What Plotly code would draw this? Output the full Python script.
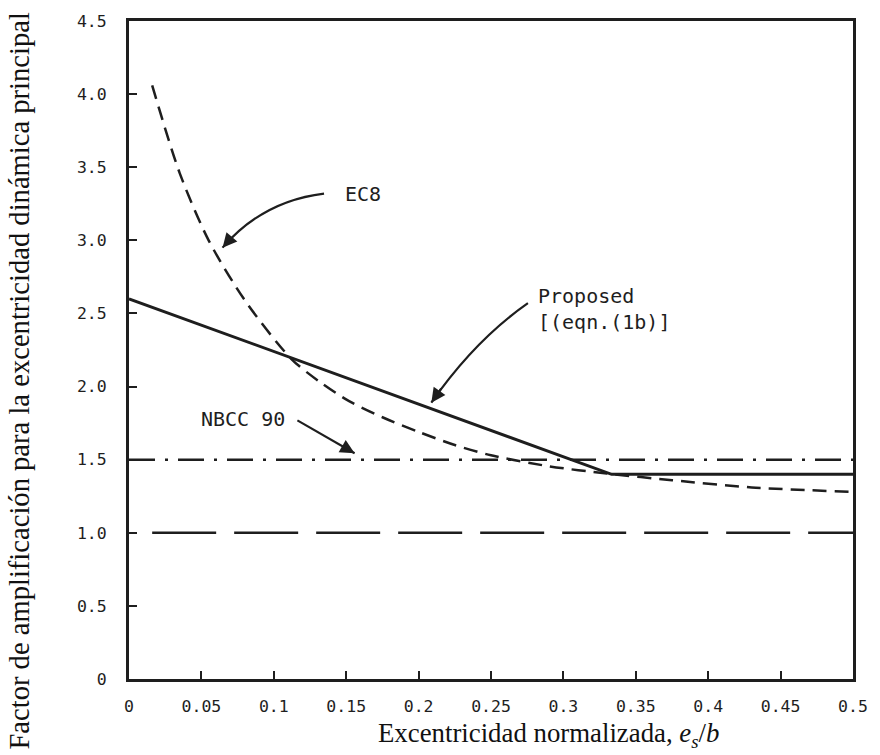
import plotly.graph_objects as go

# ---- data ----
ec8_x = [0.016, 0.035, 0.055, 0.08, 0.112, 0.132, 0.152, 0.175, 0.2, 0.225, 0.25, 0.29, 0.33, 0.375, 0.43, 0.5]
ec8_y = [4.06, 3.46, 3.0, 2.59, 2.19, 2.03, 1.90, 1.79, 1.69, 1.60, 1.53, 1.455, 1.405, 1.36, 1.31, 1.28]

prop_x = [0.0, 0.3333, 0.5]
prop_y = [2.6, 1.4, 1.4]

nbcc_x = [0.0, 0.5]
nbcc_y = [1.5, 1.5]

unit_x = [0.016, 0.5]
unit_y = [1.0, 1.0]

x_ticks = [0, 0.05, 0.1, 0.15, 0.2, 0.25, 0.3, 0.35, 0.4, 0.45, 0.5]
x_tick_text = ["0", "0.05", "0.1", "0.15", "0.2", "0.25", "0.3", "0.35", "0.4", "0.45", "0.5"]
y_ticks = [0, 0.5, 1.0, 1.5, 2.0, 2.5, 3.0, 3.5, 4.0, 4.5]
y_tick_text = ["0", "0.5", "1.0", "1.5", "2.0", "2.5", "3.0", "3.5", "4.0", "4.5"]

INK = "#1e1e1e"
MONO = "DejaVu Sans Mono"
SERIF = "Liberation Serif"

fig = go.Figure()
fig.add_trace(go.Scatter(x=unit_x, y=unit_y, mode="lines",
                         line=dict(color=INK, width=2.5, dash="64px,18px"), hoverinfo="skip"))
fig.add_trace(go.Scatter(x=nbcc_x, y=nbcc_y, mode="lines",
                         line=dict(color=INK, width=2.5, dash="26px,10px,3px,10px"), hoverinfo="skip"))
fig.add_trace(go.Scatter(x=ec8_x, y=ec8_y, mode="lines", line_shape="spline",
                         line=dict(color=INK, width=2.5, dash="14px,8px", smoothing=0.8),
                         hoverinfo="skip"))
fig.add_trace(go.Scatter(x=prop_x, y=prop_y, mode="lines",
                         line=dict(color=INK, width=3), hoverinfo="skip"))

# curved arrow bodies
def qpath(p0, c, p1):
    return f"M {p0[0]},{p0[1]} Q {c[0]},{c[1]} {p1[0]},{p1[1]}"

arrows = [
    ((0.1347, 3.32), (0.0925, 3.27), (0.0646, 2.95)),
    ((0.2755, 2.57), (0.2388, 2.316), (0.2088, 1.89)),
    ((0.1163, 1.769), (0.136, 1.656), (0.1558, 1.544)),
]
for p0, c, p1 in arrows:
    fig.add_shape(type="path", path=qpath(p0, c, p1), xref="x", yref="y",
                  line=dict(color=INK, width=2.2))
    hx = p1[0] + 0.25 * (c[0] - p1[0])
    hy = p1[1] + 0.25 * (c[1] - p1[1])
    fig.add_annotation(x=p1[0], y=p1[1], ax=hx, ay=hy, axref="x", ayref="y",
                       xref="x", yref="y", text="", showarrow=True,
                       arrowhead=2, arrowsize=1.3, arrowwidth=2.2, arrowcolor=INK)

lab_font = dict(family=MONO, size=20, color=INK)
fig.add_annotation(x=0.148, y=3.32, text="EC8", showarrow=False, xanchor="left",
                   yanchor="middle", font=lab_font)
fig.add_annotation(x=0.281, y=2.53, text="Proposed<br>[(eqn.(1b)]", showarrow=False,
                   xanchor="left", yanchor="middle", align="left", font=lab_font)
fig.add_annotation(x=0.048, y=1.78, text="NBCC 90", showarrow=False, xanchor="left",
                   yanchor="middle", font=lab_font)

# axis titles
fig.add_annotation(xref="paper", yref="paper", x=-0.151, y=0.453,
                   xanchor="center", yanchor="middle",
                   text="Factor de amplificación para la excentricidad dinámica principal",
                   textangle=-90, showarrow=False,
                   font=dict(family=SERIF, size=28.6, color="#111"))
fig.add_annotation(xref="paper", yref="paper", x=0.58, y=-0.085,
                   xanchor="center", yanchor="middle",
                   text="Excentricidad normalizada, <i>e</i><sub><i>s</i></sub>/<i>b</i>",
                   showarrow=False, font=dict(family=SERIF, size=26.8, color="#111"))

axis_common = dict(showgrid=False, zeroline=False, showline=True, linecolor=INK,
                   linewidth=3, mirror=True, ticks="inside", ticklen=8,
                   tickwidth=2, tickcolor=INK,
                   tickfont=dict(family=MONO, size=16.5, color=INK))
fig.update_xaxes(range=[0, 0.5], tickvals=x_ticks, ticktext=x_tick_text,
                 ticklabelstandoff=10, **axis_common)
fig.update_yaxes(range=[0, 4.5], tickvals=y_ticks, ticktext=y_tick_text,
                 ticklabelstandoff=16, **axis_common)

fig.update_layout(width=880, height=755, showlegend=False,
                  margin=dict(l=129, r=16, t=20, b=76),
                  paper_bgcolor="white", plot_bgcolor="white")

fig.write_html("out.html")
